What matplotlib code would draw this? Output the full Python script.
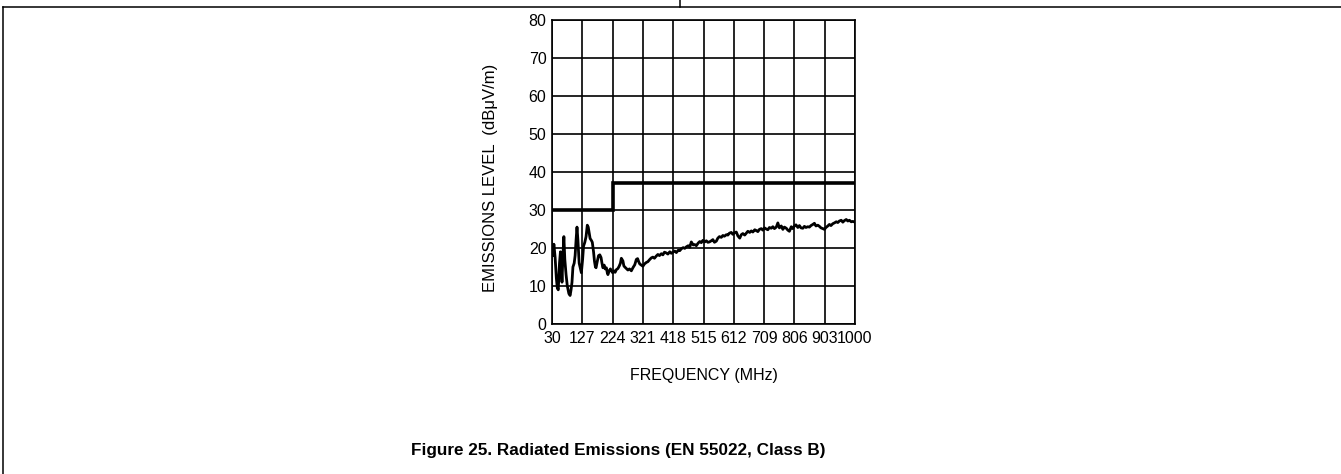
import matplotlib.pyplot as plt
from matplotlib.lines import Line2D

plt.rcParams['font.family'] = ['Liberation Sans', 'DejaVu Sans']

# EN 55022 class B limit
limit_freq = [30, 224, 224, 1000]
limit_level = [30, 30, 37, 37]

freq = [30, 33, 36, 40, 44, 47, 50, 54, 57, 60, 62, 65, 68, 71, 75, 79, 84, 88, 91, 94,
        97, 101, 104, 107, 110, 113, 117, 121, 124, 128, 131, 135, 139, 143, 146, 149, 152, 156, 159, 163,
        166, 169, 171, 175, 179, 183, 187, 190, 193, 197, 200, 204, 207, 209, 213, 217, 220, 224, 228, 232,
        236, 241, 245, 249, 252, 257, 260, 263, 268, 273, 278, 284, 289, 295, 300, 304, 308, 311, 316, 321,
        326, 332, 337, 342, 348, 353, 358, 364, 369, 374, 380, 385, 390, 396, 401, 407, 412, 417, 423, 428,
        434, 439, 444, 450, 455, 460, 466, 471, 476, 482, 487, 492, 498, 503, 508, 513, 519, 524, 529, 534,
        540, 545, 550, 556, 561, 566, 572, 577, 582, 588, 593, 598, 604, 609, 614, 620, 625, 631, 636, 641,
        647, 652, 657, 663, 668, 673, 679, 684, 689, 694, 700, 705, 710, 716, 721, 726, 732, 737, 742, 748,
        753, 758, 764, 769, 774, 780, 785, 790, 796, 801, 806, 811, 817, 822, 827, 833, 838, 843, 849, 854,
        859, 865, 870, 875, 881, 886, 891, 897, 902, 907, 913, 918, 923, 929, 934, 940, 945, 950, 956, 961,
        966, 972, 977, 982, 988, 993, 1000]
level = [20.5, 18.0, 21.0, 17.5, 12, 9.5, 9, 16, 19, 15, 11, 18, 23, 17, 13, 10, 8, 7.5, 9, 11,
         15, 16, 18, 22, 25.5, 22, 16, 14.5, 13.5, 17, 20.5, 21.5, 23, 26, 25.5, 24, 22.5, 22, 21.5, 19,
         16.5, 15, 14.8, 16.5, 18, 18.2, 17.5, 16, 14.8, 15.5, 14.5, 14.8, 13.5, 13, 14, 14.5, 14, 13.5, 14, 13.6,
         14.3, 14.6, 15.2, 16, 17.3, 16.6, 15.3, 15, 14.6, 14.2, 14.5, 14, 14.8, 15.6, 17, 17.2, 16.3, 15.8, 15.5, 15.2,
         15.8, 16.2, 16.4, 16.9, 17.4, 17.6, 17.3, 17.9, 18.3, 18, 18.5, 18.2, 18.9, 18.7, 18.4, 19, 18.6, 18.9, 19.2, 18.8,
         19.4, 19.3, 19.8, 20.1, 19.9, 20.3, 20.6, 20.2, 21.6, 20.8, 20.9, 20.6, 21.3, 21.7, 21.4, 22, 21.6, 21.9, 21.5, 21.6,
         21.9, 22.2, 21.5, 21.8, 22.6, 23, 22.8, 23.3, 23.1, 23.5, 23.4, 23.9, 24.1, 23.6, 24, 24.2, 23.2, 22.6, 23.5, 23.8,
         23.4, 23.9, 24.4, 24.1, 24.5, 24.2, 24.8, 24.6, 24.3, 24.9, 25.1, 24.7, 25.3, 25, 24.8, 25.4, 25.2, 25.6, 25.1, 25.5,
         26.6, 25.3, 25.8, 24.9, 25.5, 25.2, 24.7, 24.4, 25.6, 25.1, 25.8, 26.1, 25.4, 25.9, 25.3, 25.2, 25.7, 25.4, 25.6, 25.5,
         25.9, 26.2, 26.5, 25.8, 26, 25.7, 25.3, 25.1, 24.9, 25.4, 25.8, 26.2, 25.9, 26.4, 26.6, 26.9, 26.7, 27.1, 27.3, 26.8,
         27.2, 27.5, 27.1, 27.3, 26.9, 27, 26.8]

xticks = [30, 127, 224, 321, 418, 515, 612, 709, 806, 903, 1000]
yticks = [0, 10, 20, 30, 40, 50, 60, 70, 80]

W, H = 1341, 474
fig = plt.figure(figsize=(W / 100, H / 100), dpi=100)
ax = fig.add_axes([552 / W, (H - 324) / H, 303 / W, 304 / H])

ax.plot(limit_freq, limit_level, color='black', lw=2.6, solid_joinstyle='miter')
ax.plot(freq, level, color='black', lw=2.0)

ax.set_xlim(30, 1000)
ax.set_ylim(0, 80)
ax.set_xticks(xticks)
ax.set_yticks(yticks)
ax.tick_params(length=0, labelsize=11.5)
ax.tick_params(axis='x', pad=5)
ax.tick_params(axis='y', pad=4)
ax.grid(True, color='black', lw=1.2)
for s in ax.spines.values():
    s.set_linewidth(1.2)

ax.set_ylabel('EMISSIONS LEVEL  (dB\u03bcV/m)', fontsize=12)
ax.yaxis.set_label_coords(-0.178, 0.48)
ax.set_xlabel('FREQUENCY (MHz)', fontsize=11.5)
ax.xaxis.set_label_coords(0.5, -0.145)

fig.text(618 / W, 1 - 450 / H, 'Figure 25. Radiated Emissions (EN 55022, Class B)',
         ha='center', va='center', fontsize=12.3, fontweight='bold')

# page frame lines
fig.add_artist(Line2D([3 / W, 1], [1 - 7 / H, 1 - 7 / H], color='black', lw=1.1, transform=fig.transFigure))
fig.add_artist(Line2D([3 / W, 3 / W], [0, 1 - 7 / H], color='black', lw=1.1, transform=fig.transFigure))
fig.add_artist(Line2D([680 / W, 680 / W], [1 - 7 / H, 1], color='black', lw=1.1, transform=fig.transFigure))

fig.savefig('out.png', dpi=100)
